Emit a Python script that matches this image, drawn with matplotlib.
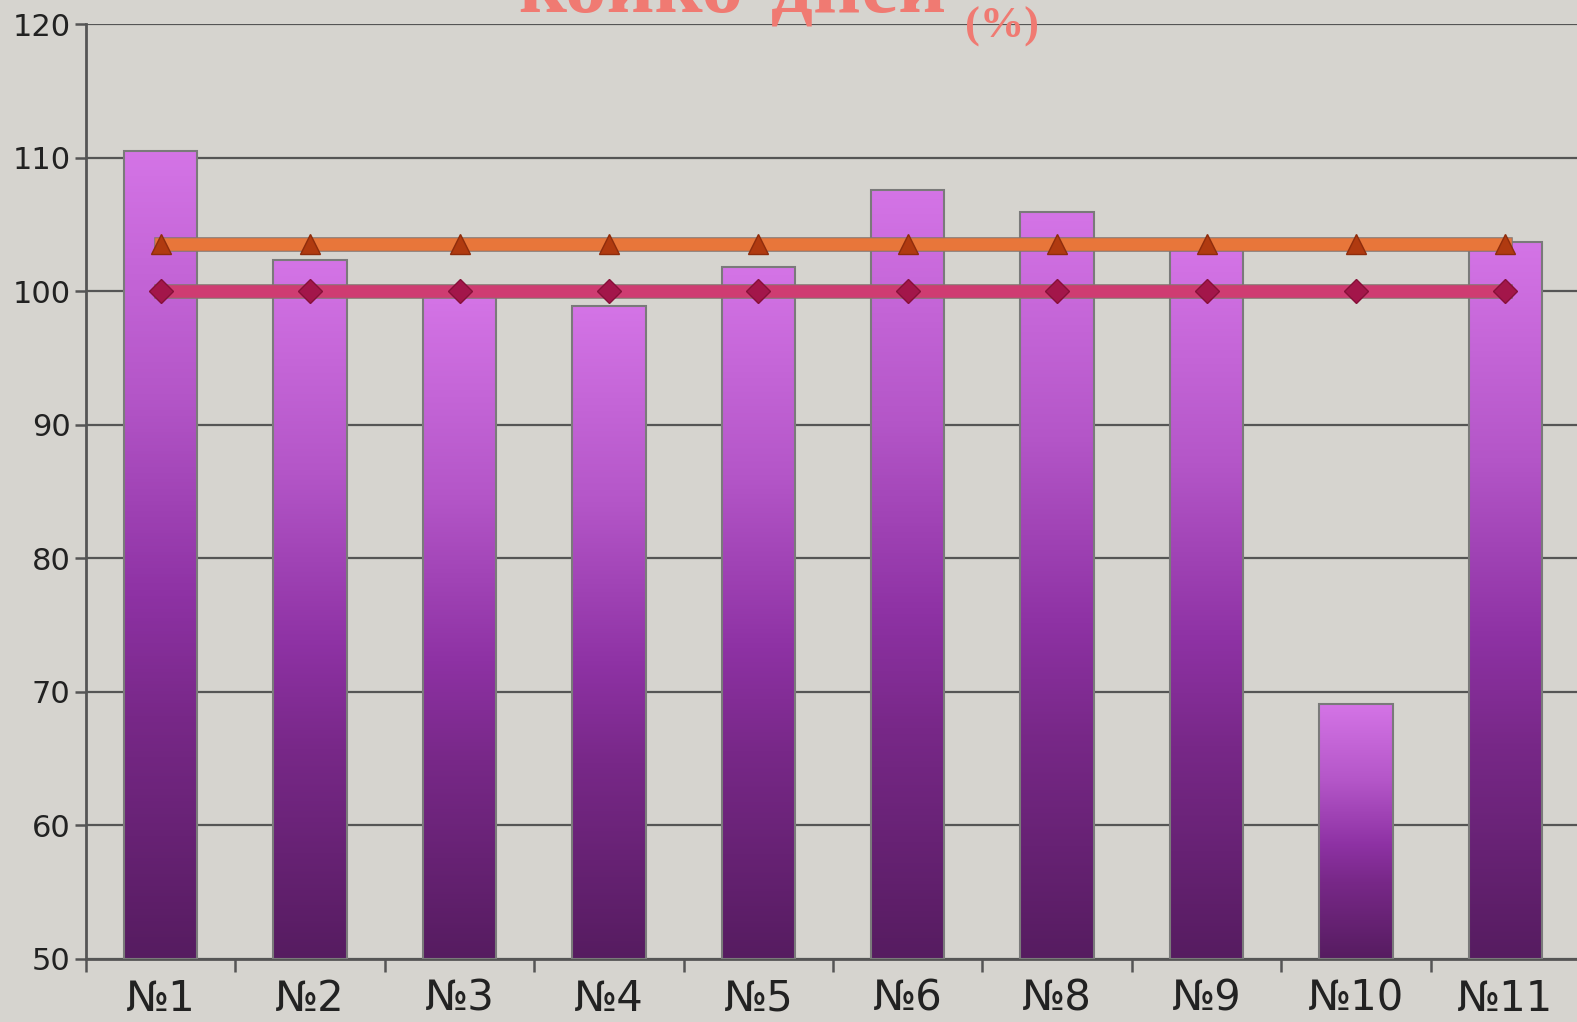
import numpy as np
import matplotlib
matplotlib.use('Agg')
from matplotlib import pyplot as plt
from matplotlib.colors import LinearSegmentedColormap
import matplotlib.patheffects as pe

categories = ['№1', '№2', '№3', '№4', '№5', '№6', '№8', '№9', '№10', '№11']
values = [110.5, 102.3, 99.6, 98.9, 101.8, 107.6, 105.9, 103.1, 69.1, 103.7]
norm_line = [100] * 10
avg_line = [103.5] * 10

bg = '#d6d4cf'
grid_col = '#555555'

fig = plt.figure(figsize=(15.77, 10.22), dpi=100, facecolor=bg)
ax = fig.add_axes([86 / 1577, 0.0621, (1580 - 86) / 1577, 0.9765 - 0.0621])
ax.set_facecolor(bg)

x = np.arange(len(categories))
ax.set_xlim(-0.5, len(categories) - 0.5)
ax.set_ylim(50, 120)
ax.set_yticks(range(50, 121, 10))
ax.yaxis.grid(True, color=grid_col, lw=1.6, zorder=0)
ax.set_axisbelow(True)

# bar gradient, dark at the bottom, light pink-violet at the top
cmap = LinearSegmentedColormap.from_list('bar', [
	(0.0, '#561c60'), (0.3, '#782888'), (0.45, '#8e32a4'),
	(0.7, '#b456c8'), (1.0, '#d474e6')])
grad = np.linspace(0, 1, 256).reshape(-1, 1)

bars = ax.bar(x, [v - 50 for v in values], bottom=50, width=0.49,
	facecolor='none', edgecolor='#7a7a7a', lw=1.5, zorder=3)
for b in bars:
	x0, y0 = b.get_x(), b.get_y()
	im = ax.imshow(grad, cmap=cmap, origin='lower', aspect='auto',
		extent=[x0, x0 + b.get_width(), y0, y0 + b.get_height()], zorder=2)
	im.set_clip_path(b)

# lines with a thin dark edge, markers drawn on top without it
edge = [pe.withStroke(linewidth=10.5, foreground='#857570')]
ax.plot(x, avg_line, color='#e8763a', lw=9, zorder=4, path_effects=edge)
ax.plot(x, norm_line, color='#cf3c72', lw=9, zorder=4, path_effects=edge)
ax.plot(x, avg_line, ls='none', marker='^', ms=15, mfc='#b03a10', mec='#8e2c0c',
	mew=1, zorder=5)
ax.plot(x, norm_line, ls='none', marker='D', ms=12, mfc='#a3164a', mec='#861038',
	mew=1, zorder=5)

for side in ['top', 'right']:
	ax.spines[side].set_visible(False)
for side in ['left', 'bottom']:
	ax.spines[side].set_color(grid_col)
	ax.spines[side].set_linewidth(2)

ax.set_xticks(x)
ax.set_xticklabels(categories)
ax.set_xticks(np.arange(-0.5, len(categories), 1), minor=True)
ax.tick_params(axis='x', which='major', length=0, pad=14)
ax.tick_params(axis='x', which='minor', length=9, width=1.8, color=grid_col, direction='out')
ax.tick_params(axis='y', length=8, width=1.8, color=grid_col, pad=3)

lab_font = ['Liberation Sans Narrow', 'DejaVu Sans']
for t in ax.get_xticklabels():
	t.set_family(lab_font)
	t.set_fontsize(30)
	t.set_color('#222222')
for t in ax.get_yticklabels():
	t.set_family(lab_font)
	t.set_fontsize(22)
	t.set_color('#222222')

fig.text(518 / 1577, 1 - 11 / 1022, 'койко-дней', family='Liberation Serif',
	fontweight='bold', fontsize=60, color='#f07a72', va='baseline', ha='left')
fig.text(965 / 1577, 1 - 38 / 1022, '(%)', family='Liberation Serif',
	fontweight='bold', fontsize=32, color='#f07a72', va='baseline', ha='left')

fig.savefig('out.png', dpi=100, facecolor=bg)
